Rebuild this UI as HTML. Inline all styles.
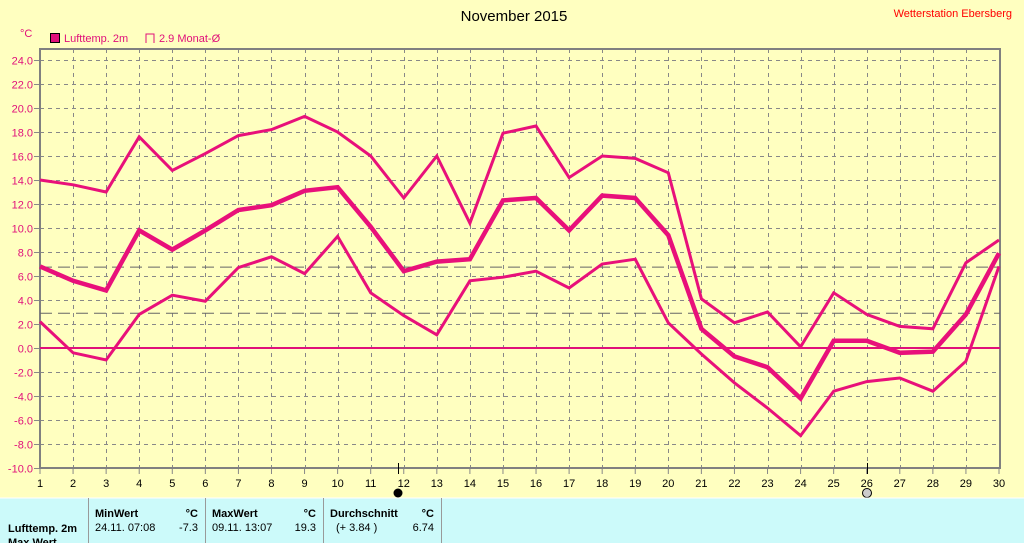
<!DOCTYPE html>
<html><head><meta charset="utf-8"><style>
body{margin:0;width:1024px;height:543px;overflow:hidden;background:#ffffc0;font-family:"Liberation Sans",sans-serif}
</style></head><body>
<svg id="s" width="1024" height="543" xmlns="http://www.w3.org/2000/svg" style="position:absolute;left:0;top:0;font-family:'Liberation Sans',sans-serif">
<rect width="1024" height="543" fill="#ffffc0"/>
<text x="514" y="21" font-size="15" text-anchor="middle" fill="#000">November 2015</text>
<text x="1012" y="17" font-size="11" text-anchor="end" fill="#ff0000">Wetterstation Ebersberg</text>
<text x="20" y="37" font-size="11" fill="#e0107a">°C</text>
<rect x="50.5" y="33.5" width="9" height="9" fill="#e0107a" stroke="#000"/>
<text x="64" y="42" font-size="11" fill="#e0107a">Lufttemp. 2m</text>
<path d="M146 43V34h8v9" fill="none" stroke="#e0107a"/>
<text x="159" y="42" font-size="11" fill="#e0107a">2.9 Monat-Ø</text>
<g id="g"></g>
<rect x="0" y="498" width="1024" height="45" fill="#ccfafa"/>
<line x1="0" y1="498" x2="1024" y2="498" stroke="#fff"/>
<g stroke="#999"><line x1="88.5" y1="498" x2="88.5" y2="543"/><line x1="205.5" y1="498" x2="205.5" y2="543"/><line x1="323.5" y1="498" x2="323.5" y2="543"/><line x1="441.5" y1="498" x2="441.5" y2="543"/></g>
<g font-size="11" fill="#000">
<text x="95" y="517" font-weight="bold">MinWert</text><text x="198" y="517" font-weight="bold" text-anchor="end">°C</text>
<text x="95" y="531">24.11.  07:08</text><text x="198" y="531" text-anchor="end">-7.3</text>
<text x="212" y="517" font-weight="bold">MaxWert</text><text x="316" y="517" font-weight="bold" text-anchor="end">°C</text>
<text x="212" y="531">09.11.  13:07</text><text x="316" y="531" text-anchor="end">19.3</text>
<text x="330" y="517" font-weight="bold">Durchschnitt</text><text x="434" y="517" font-weight="bold" text-anchor="end">°C</text>
<text x="336" y="531">(+ 3.84 )</text><text x="434" y="531" text-anchor="end">6.74</text>
<text x="8" y="532" font-weight="bold">Lufttemp. 2m</text>
<text x="8" y="546" font-weight="bold">Max Wert</text>
</g>
</svg>
<script>
const g=document.getElementById('g');const NS='http://www.w3.org/2000/svg';
const X=d=>40+(d-1)*959/29, Y=v=>60+(24-v)*12;
let h='';
for(let v=-10;v<=24;v+=2){const y=Y(v)+.5;
 if(v>-10)h+=`<line x1="40" y1="${y}" x2="1000" y2="${y}" stroke="#888" stroke-dasharray="4,4"/>`;
 h+=`<line x1="34" y1="${y}" x2="40" y2="${y}" stroke="#888"/>`;
 h+=`<text x="33" y="${y+4}" font-size="11" text-anchor="end" fill="#e0107a">${v.toFixed(1)}</text>`;}
for(let d=2;d<=30;d++){const x=Math.round(X(d))+.5;h+=`<line x1="${x}" y1="49" x2="${x}" y2="468" stroke="#888" stroke-dasharray="4,4"/>`;}
for(let d=1;d<=30;d++){const x=X(d);h+=`<text x="${x}" y="487" font-size="11" text-anchor="middle">${d}</text><line x1="${x}" y1="468" x2="${x}" y2="474" stroke="#888"/>`;}
h+=`<path d="M40 49H1000V468H40Z" fill="none" stroke="#808080" stroke-width="2"/>`;
h+=`<line x1="40" y1="${Y(6.74)}" x2="1000" y2="${Y(6.74)}" stroke="#666" stroke-dasharray="12,6"/>`;
h+=`<line x1="40" y1="${Y(2.9)}" x2="1000" y2="${Y(2.9)}" stroke="#666" stroke-dasharray="12,6"/>`;
h+=`<line x1="40" y1="${Y(0)}" x2="1000" y2="${Y(0)}" stroke="#e0107a" stroke-width="2"/>`;
const mx=[14.0,13.6,13.0,17.6,14.8,16.2,17.7,18.2,19.3,18.0,16.0,12.5,16.0,10.4,17.9,18.5,14.2,16.0,15.8,14.6,4.1,2.1,3.0,0.1,4.6,2.8,1.8,1.6,7.1,9.0];
const me=[6.8,5.6,4.8,9.8,8.2,9.8,11.5,11.9,13.1,13.4,10.1,6.4,7.2,7.4,12.3,12.5,9.8,12.7,12.5,9.4,1.6,-0.7,-1.6,-4.2,0.6,0.6,-0.4,-0.3,2.8,7.9];
const mn=[2.2,-0.4,-1.0,2.8,4.4,3.9,6.7,7.6,6.2,9.3,4.6,2.7,1.1,5.6,5.9,6.4,5.0,7.0,7.4,2.1,-0.5,-2.9,-5.0,-7.3,-3.6,-2.8,-2.5,-3.6,-1.1,6.8];
const P=a=>a.map((v,i)=>X(i+1).toFixed(1)+','+Y(v).toFixed(1)).join(' ');
h+=`<polyline points="${P(mx)}" fill="none" stroke="#e8107a" stroke-width="3"/>`;
h+=`<polyline points="${P(mn)}" fill="none" stroke="#e8107a" stroke-width="3"/>`;
h+=`<polyline points="${P(me)}" fill="none" stroke="#e8107a" stroke-width="4.5"/>`;
h+=`<line x1="398.5" y1="463" x2="398.5" y2="474" stroke="#000"/><circle cx="398" cy="493" r="4.5" fill="#000"/>`;
h+=`<line x1="867.5" y1="463" x2="867.5" y2="474" stroke="#000"/><circle cx="867" cy="493" r="4.5" fill="#ccc" stroke="#000"/>`;
g.innerHTML=h;
</script>
</body></html>
